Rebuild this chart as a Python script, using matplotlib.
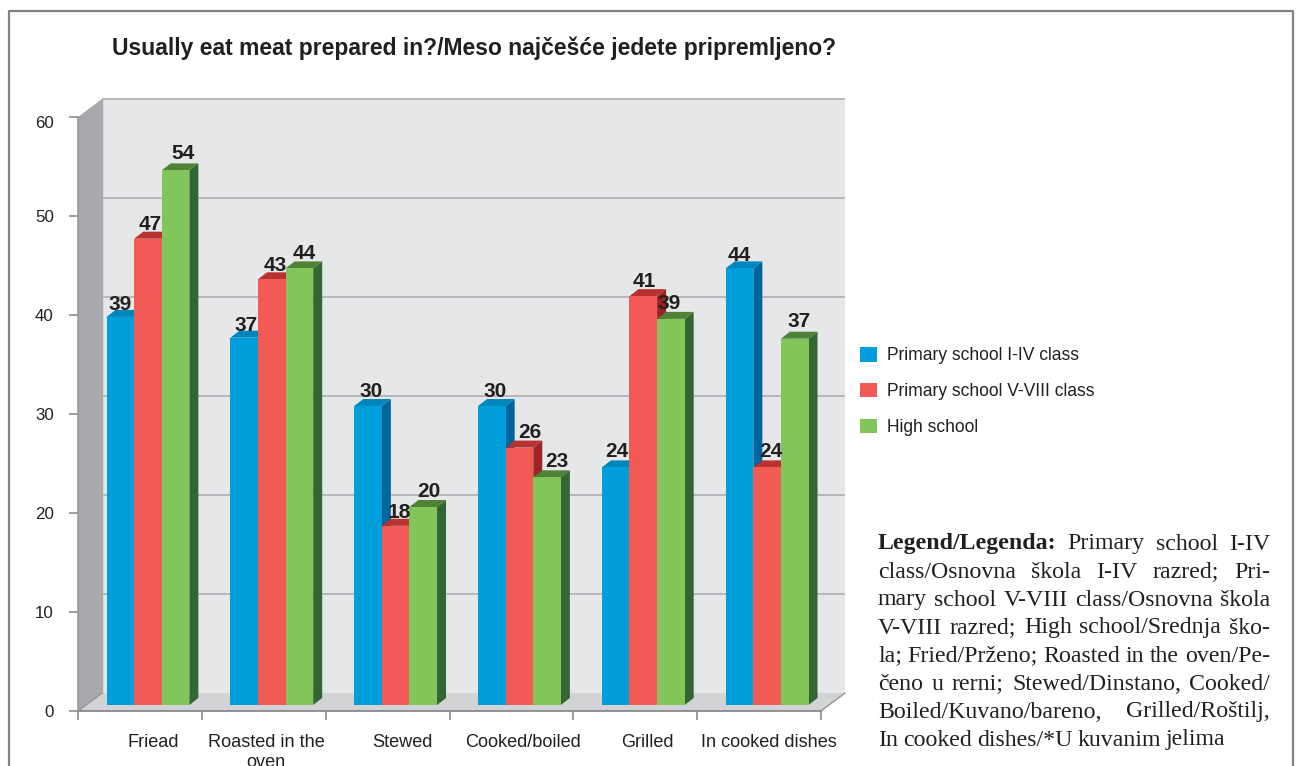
import matplotlib
matplotlib.use("Agg")
import matplotlib.pyplot as plt
from matplotlib.patches import Polygon, Patch
from matplotlib.transforms import ScaledTranslation

categories = ["Friead", "Roasted in the\noven", "Stewed", "Cooked/boiled", "Grilled", "In cooked dishes"]
series_names = ["Primary school I-IV class", "Primary school V-VIII class", "High school"]
primary_1_4 = [39.2, 37.1, 30.2, 30.2, 24.0, 44.1]
primary_5_8 = [47.1, 43.0, 18.1, 26.0, 41.3, 24.0]
high_school = [54.0, 44.1, 20.0, 23.0, 39.0, 37.0]
y_ticks = [0, 10, 20, 30, 40, 50, 60]
title_text = "Usually eat meat prepared in?/Meso najčešće jedete pripremljeno?"
note_lines = [
    "Primary school I-IV",
    "class/Osnovna škola I-IV razred; Pri-",
    "mary school V-VIII class/Osnovna škola",
    "V-VIII razred; High school/Srednja ško-",
    "la; Fried/Prženo; Roasted in the oven/Pe-",
    "čeno u rerni; Stewed/Dinstano, Cooked/",
    "Boiled/Kuvano/bareno, Grilled/Roštilj,",
    "In cooked dishes/*U kuvanim jelima",
]
note_head = "Legend/Legenda:"

W, H = 1297, 766
SANS = "Liberation Sans"
SERIF = "Liberation Serif"
TXT = "#231f20"
FACE = ["#009fdb", "#f15a55", "#82c55b"]
TOP = ["#0085bd", "#b83232", "#4f8236"]
SIDE = ["#00659f", "#9c2326", "#336633"]
WALL, SIDEWALL, FLOOR, GRID = "#e6e7e8", "#a7a9ac", "#d1d3d4", "#a7a9ac"

fig = plt.figure(figsize=(W / 100, H / 100), dpi=100, facecolor="white")
L, R, T, B = 78, 821, 117, 711
ax = fig.add_axes([L / W, 1 - B / H, (R - L) / W, (B - T) / H])
ax.set_xlim(0, 6)
ax.set_ylim(0, 60)
ax.patch.set_visible(False)
for s in ax.spines.values():
    s.set_visible(False)

pxx = (R - L) / 6
pxy = (B - T) / 60
DX, DY = 24 / pxx, 18 / pxy          # depth of the box
dx, dy = 9 / pxx, 7 / pxy            # depth of a bar
base = 6 / pxy                       # gap of bars above the front edge
bw = 27.6 / pxx
centre = 0.565

ymax = y_ticks[-1]
kw = dict(clip_on=False, linewidth=0)
ax.add_patch(Polygon([(DX, DY), (6 + DX, DY), (6 + DX, ymax + DY), (DX, ymax + DY)], fc=WALL, zorder=1, **kw))
ax.add_patch(Polygon([(0, 0), (DX, DY), (DX, ymax + DY), (0, ymax)], fc=SIDEWALL, zorder=1, **kw))
ax.add_patch(Polygon([(0, 0), (6, 0), (6 + DX, DY), (DX, DY)], fc=FLOOR, zorder=1, **kw))
for v in y_ticks[1:]:
    ax.plot([DX, 6 + DX], [v + DY, v + DY], color=GRID, lw=1.1, clip_on=False, zorder=2, solid_capstyle="butt")
ax.plot([DX, DX], [DY, ymax + DY], color=GRID, lw=1.0, clip_on=False, zorder=2)
ax.plot([0, DX], [0, DY], color="#939598", lw=1, clip_on=False, zorder=2)
ax.plot([6, 6 + DX], [0, DY], color="#939598", lw=1, clip_on=False, zorder=2)
ax.plot([0, 6], [0, 0], color="#808285", lw=1.2, clip_on=False, zorder=2)
ax.plot([0, 0], [0, ymax], color="#939598", lw=1.1, clip_on=False, zorder=2)

series = [primary_1_4, primary_5_8, high_school]
label_dx = [[0, 2.5, 7], [2, 3, 5], [3, 4, 6], [3, 10, 10], [1, 1, -2], [0, 4, 4]]
label_dy = [[16, 17, 18], [15, 15, 17], [18, 16, 17], [18, 17, 17], [17, 19, 17], [15, 17, 19]]
z = 3
for i in range(len(categories)):
    for k, vals in enumerate(series):
        v = vals[i]
        x0 = i + centre + (k - 1.5) * bw
        x1 = x0 + bw
        top = v + base
        ax.add_patch(Polygon([(x1, base), (x1 + dx, base + dy), (x1 + dx, top + dy), (x1, top)], fc=SIDE[k], zorder=z, **kw))
        ax.add_patch(Polygon([(x0, top), (x1, top), (x1 + dx, top + dy), (x0 + dx, top + dy)], fc=TOP[k], zorder=z, **kw))
        ax.bar(x0, v, bw, bottom=base, align="edge", color=FACE[k], linewidth=0, zorder=z + 0.5)
        z += 1
for i in range(len(categories)):
    for k, vals in enumerate(series):
        x = i + centre + (k - 1) * bw
        ax.annotate(str(int(vals[i])), (x, round(vals[i]) + base),
                    xytext=(label_dx[i][k] * 0.72, (label_dy[i][k] - 1.5) * 0.72),
                    textcoords="offset points", ha="center", va="center", family=SANS,
                    fontweight="bold", fontsize=15, color=TXT, zorder=100, annotation_clip=False)

ax.set_yticks(y_ticks)
ax.set_xticks(range(7))
ax.set_xticklabels([])
ax.tick_params(axis="both", which="major", color="#808285", length=6.2, width=1.1, labelsize=12.2, labelcolor=TXT)
ax.tick_params(axis="y", pad=11.3)
for t in ax.get_yticklabels():
    t.set_family(SANS)
# the top label sits a little below its tick in the reference
top_label = ax.get_yticklabels()[-1]
top_label.set_transform(top_label.get_transform() + ScaledTranslation(0, -5 / 100, fig.dpi_scale_trans))
ax.set_xticks([0.61, 1.52, 2.62, 3.59, 4.6, 5.58], minor=True)
ax.set_xticklabels(categories, minor=True, family=SANS, fontsize=13.1, color=TXT, linespacing=1.25)
ax.tick_params(axis="x", which="minor", length=0, pad=16.5)

handles = [Patch(fc=c, lw=0) for c in FACE]
leg = fig.legend(handles, series_names, loc="upper left", bbox_to_anchor=(853 / W, 1 - 340 / H),
                 frameon=False, prop={"family": SANS, "size": 12.65}, labelcolor=TXT,
                 handlelength=0.97, handleheight=0.9, handletextpad=0.57, labelspacing=1.05,
                 borderpad=0.4, borderaxespad=0)

fig.text(112 / W, 1 - 48 / H, title_text, family=SANS, fontweight="bold", fontsize=16.5, color=TXT, va="center", ha="left")

# page frame, open at the bottom where the page was cropped
fig.add_artist(plt.Line2D([9 / W, 9 / W, 1293 / W, 1293 / W], [0, 1 - 11 / H, 1 - 11 / H, 0], color="#808285", lw=1.6))

# justified note
r = fig.canvas.get_renderer()
nx0, nx1 = 878, 1270
note_size = 17.2
line_y = [544 + 28 * j for j in range(8)]
def put(x, y, s, weight="normal"):
    return fig.text(x / W, 1 - y / H, s, family=SERIF, fontsize=note_size, fontweight=weight, color=TXT, va="center", ha="left")
for j, line in enumerate(note_lines):
    y = line_y[j]
    words = [(w, "normal") for w in line.split(" ")]
    if j == 0:
        words = [(note_head, "bold")] + words
    arts = [put(nx0, y, w, wt) for w, wt in words]
    widths = [a.get_window_extent(r).width for a in arts]
    if j < len(note_lines) - 1:
        gap = (nx1 - nx0 - sum(widths)) / (len(words) - 1)
    else:
        gap = 5.0
    x = nx0
    for a, w in zip(arts, widths):
        a.set_x(x / W)
        x += w + gap

fig.savefig("out.png", dpi=100)
